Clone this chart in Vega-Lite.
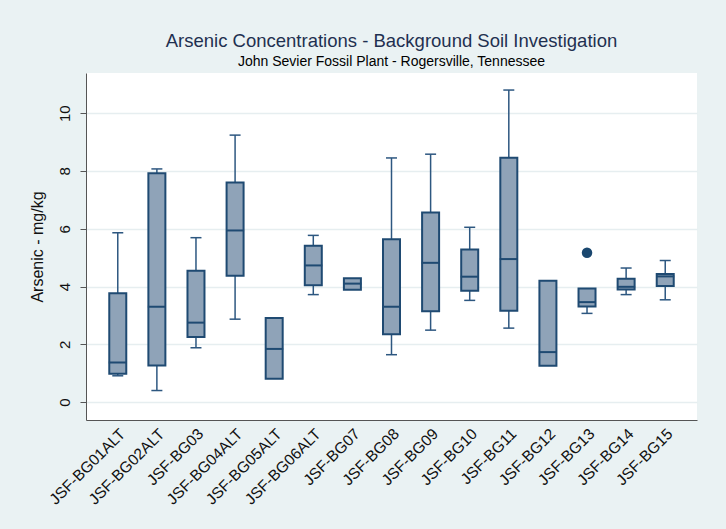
{
  "$schema": "https://vega.github.io/schema/vega-lite/v6.json",
  "width": 611,
  "height": 347,
  "autosize": "none",
  "padding": {"left": 86, "top": 73, "right": 29, "bottom": 109},
  "background": "#eaf2f3",
  "title": {
    "text": "Arsenic Concentrations - Background Soil Investigation",
    "subtitle": "John Sevier Fossil Plant - Rogersville, Tennessee",
    "anchor": "middle",
    "frame": "group",
    "font": "Liberation Sans",
    "fontSize": 18.5,
    "fontWeight": "normal",
    "color": "#1f3050",
    "subtitleFont": "Liberation Sans",
    "subtitleFontSize": 14,
    "subtitleColor": "#000000",
    "subtitlePadding": 5,
    "offset": 4
  },
  "config": {
    "view": {"stroke": null, "fill": "#ffffff"},
    "axis": {
      "labelFont": "Liberation Sans",
      "titleFont": "Liberation Sans",
      "labelColor": "#111111",
      "titleColor": "#111111",
      "domainColor": "#555555",
      "tickColor": "#555555"
    }
  },
  "data": {
    "values": [
      {"site": "JSF-BG01ALT", "lower": 0.91, "q1": 0.98, "median": 1.37, "q3": 3.77, "upper": 5.86, "outlier": null},
      {"site": "JSF-BG02ALT", "lower": 0.40, "q1": 1.27, "median": 3.30, "q3": 7.92, "upper": 8.07, "outlier": null},
      {"site": "JSF-BG03", "lower": 1.88, "q1": 2.25, "median": 2.75, "q3": 4.55, "upper": 5.69, "outlier": null},
      {"site": "JSF-BG04ALT", "lower": 2.87, "q1": 4.37, "median": 5.94, "q3": 7.60, "upper": 9.24, "outlier": null},
      {"site": "JSF-BG05ALT", "lower": null, "q1": 0.81, "median": 1.84, "q3": 2.91, "upper": null, "outlier": null},
      {"site": "JSF-BG06ALT", "lower": 3.72, "q1": 4.04, "median": 4.73, "q3": 5.41, "upper": 5.77, "outlier": null},
      {"site": "JSF-BG07", "lower": null, "q1": 3.89, "median": 4.10, "q3": 4.29, "upper": null, "outlier": null},
      {"site": "JSF-BG08", "lower": 1.64, "q1": 2.35, "median": 3.30, "q3": 5.64, "upper": 8.45, "outlier": null},
      {"site": "JSF-BG09", "lower": 2.49, "q1": 3.14, "median": 4.82, "q3": 6.56, "upper": 8.58, "outlier": null},
      {"site": "JSF-BG10", "lower": 3.52, "q1": 3.85, "median": 4.34, "q3": 5.28, "upper": 6.05, "outlier": null},
      {"site": "JSF-BG11", "lower": 2.56, "q1": 3.16, "median": 4.95, "q3": 8.46, "upper": 10.80, "outlier": null},
      {"site": "JSF-BG12", "lower": null, "q1": 1.26, "median": 1.73, "q3": 4.20, "upper": null, "outlier": null},
      {"site": "JSF-BG13", "lower": 3.07, "q1": 3.31, "median": 3.46, "q3": 3.93, "upper": null, "outlier": 5.17},
      {"site": "JSF-BG14", "lower": 3.72, "q1": 3.90, "median": 3.99, "q3": 4.27, "upper": 4.64, "outlier": null},
      {"site": "JSF-BG15", "lower": 3.54, "q1": 4.02, "median": 4.35, "q3": 4.43, "upper": 4.90, "outlier": null}
    ]
  },
  "encoding": {
    "x": {
      "field": "site",
      "type": "nominal",
      "sort": null,
      "scale": {
        "domain": ["JSF-BG01ALT", "JSF-BG02ALT", "JSF-BG03", "JSF-BG04ALT", "JSF-BG05ALT", "JSF-BG06ALT", "JSF-BG07", "JSF-BG08", "JSF-BG09", "JSF-BG10", "JSF-BG11", "JSF-BG12", "JSF-BG13", "JSF-BG14", "JSF-BG15"],
        "paddingInner": 0,
        "paddingOuter": 0.3125
      },
      "axis": {
        "title": null,
        "labelAngle": -45,
        "ticks": false,
        "labelFontSize": 15.5,
        "labelPadding": 6,
        "domainWidth": 1,
        "grid": false
      }
    }
  },
  "layer": [
    {
      "mark": {"type": "rule", "color": "#2d5780", "strokeWidth": 1.5},
      "encoding": {
        "y": {
          "field": "lower",
          "type": "quantitative",
          "scale": {"domain": [-0.62, 11.39], "nice": false, "zero": false},
          "axis": {
            "title": "Arsenic - mg/kg",
            "values": [0, 2, 4, 6, 8, 10],
            "labelAngle": -90,
            "labelFontSize": 15,
            "labelPadding": 8,
            "tickSize": 6,
            "titleFontSize": 16,
            "titleFontWeight": "normal",
            "titlePadding": 12,
            "gridColor": "#e6eef0",
            "gridWidth": 1.5,
            "domainWidth": 1
          }
        },
        "y2": {"field": "q1"}
      }
    },
    {
      "mark": {"type": "rule", "color": "#2d5780", "strokeWidth": 1.5},
      "encoding": {
        "y": {"field": "q3", "type": "quantitative"},
        "y2": {"field": "upper"}
      }
    },
    {
      "mark": {"type": "tick", "color": "#2d5780", "size": 11, "thickness": 1.5, "opacity": 1},
      "encoding": {"y": {"field": "lower", "type": "quantitative"}}
    },
    {
      "mark": {"type": "tick", "color": "#2d5780", "size": 11, "thickness": 1.5, "opacity": 1},
      "encoding": {"y": {"field": "upper", "type": "quantitative"}}
    },
    {
      "mark": {"type": "bar", "width": 17, "fill": "#8fa3b8", "stroke": "#1f4a72", "strokeWidth": 2, "opacity": 1},
      "encoding": {
        "y": {"field": "q1", "type": "quantitative"},
        "y2": {"field": "q3"}
      }
    },
    {
      "mark": {"type": "tick", "color": "#1f4a72", "size": 18, "thickness": 2, "opacity": 1},
      "encoding": {"y": {"field": "median", "type": "quantitative"}}
    },
    {
      "mark": {"type": "point", "filled": true, "color": "#1a476f", "size": 110, "opacity": 1},
      "encoding": {"y": {"field": "outlier", "type": "quantitative"}}
    }
  ]
}
